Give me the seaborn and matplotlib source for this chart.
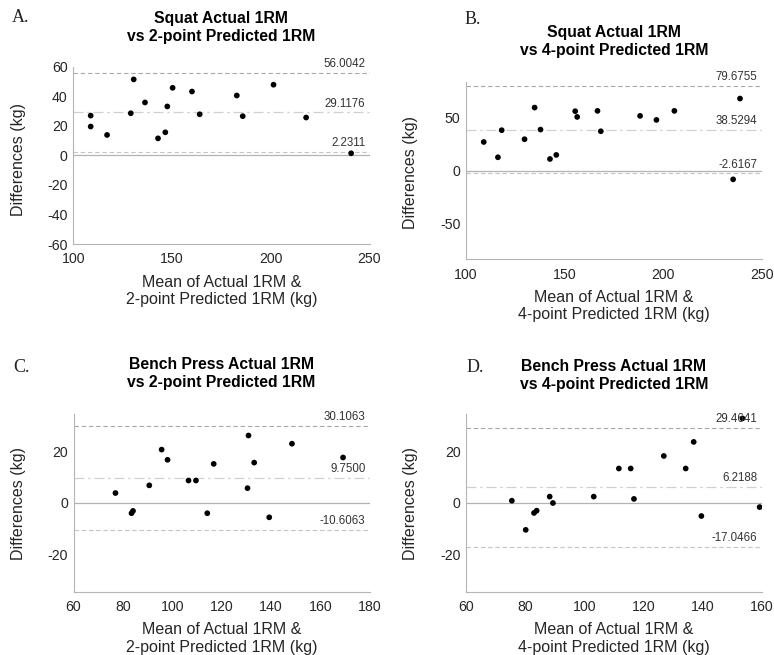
import numpy as np
import pandas as pd
import matplotlib
matplotlib.use("Agg")
import matplotlib.pyplot as plt
import seaborn as sns

# ---------------- data ----------------
a_mean = [108.8, 108.8, 117.1, 129.1, 130.6, 136.3, 142.9, 146.6, 147.6, 150.3,
          160.1, 164.0, 182.8, 185.8, 201.4, 217.9, 240.7]
a_diff = [26.9, 19.5, 13.8, 28.5, 51.4, 35.8, 11.5, 15.6, 33.1, 45.7,
          43.2, 27.8, 40.5, 26.5, 47.8, 25.6, 1.4]
a_lines = [56.0042, 29.1176, 2.2311]

b_mean = [109.0, 116.2, 118.1, 129.7, 134.8, 137.8, 142.6, 145.8, 155.4, 156.4,
          166.7, 168.4, 188.3, 196.6, 205.7, 235.5, 239.0]
b_diff = [27.0, 12.6, 38.1, 29.6, 59.4, 38.7, 11.0, 14.8, 56.0, 50.6,
          56.3, 37.1, 51.6, 47.8, 56.3, -8.2, 67.9]
b_lines = [79.6755, 38.5294, -2.6167]

c_mean = [77.0, 83.5, 84.1, 90.7, 95.7, 98.1, 106.6, 109.6, 114.2, 116.8,
          130.5, 130.9, 133.2, 139.3, 148.5, 169.2]
c_diff = [3.9, -4.0, -3.1, 6.9, 20.9, 16.9, 8.8, 8.8, -4.0, 15.3,
          5.8, 26.4, 15.8, -5.6, 23.2, 17.8]
c_lines = [30.1063, 9.7500, -10.6063]

d_mean = [75.5, 80.2, 83.0, 83.9, 88.3, 89.4, 103.2, 111.7, 115.7, 116.8,
          126.9, 134.3, 137.0, 139.6, 153.5, 159.3]
d_diff = [0.9, -10.5, -3.9, -3.0, 2.5, 0.0, 2.5, 13.5, 13.5, 1.6,
          18.4, 13.5, 23.9, -5.1, 33.1, -1.6]
d_lines = [29.4641, 6.2188, -17.0466]

line_labels = [["56.0042", "29.1176", "2.2311"],
               ["79.6755", "38.5294", "-2.6167"],
               ["30.1063", "9.7500", "-10.6063"],
               ["29.4641", "6.2188", "-17.0466"]]

titles = ["Squat Actual 1RM\nvs 2-point Predicted 1RM",
          "Squat Actual 1RM\nvs 4-point Predicted 1RM",
          "Bench Press Actual 1RM\nvs 2-point Predicted 1RM",
          "Bench Press Actual 1RM\nvs 4-point Predicted 1RM"]
xlabels = ["Mean of Actual 1RM &\n2-point Predicted 1RM (kg)",
           "Mean of Actual 1RM &\n4-point Predicted 1RM (kg)",
           "Mean of Actual 1RM &\n2-point Predicted 1RM (kg)",
           "Mean of Actual 1RM &\n4-point Predicted 1RM (kg)"]
panel_tags = ["A.", "B.", "C.", "D."]
xticks = [[100, 150, 200, 250], [100, 150, 200, 250],
          [60, 80, 100, 120, 140, 160, 180], [60, 80, 100, 120, 140, 160]]
yticks = [[-60, -40, -20, 0, 20, 40, 60], [-50, 0, 50], [-20, 0, 20], [-20, 0, 20]]
xlims = [(100, 250), (100, 250), (60, 180), (60, 160)]
ylims = [(-60, 60), (-83.5, 83.5), (-34.7, 34.7), (-34.7, 34.7)]

# ---------------- style ----------------
sns.set_theme(style="white")
plt.rcParams['font.family'] = ['Liberation Sans', 'DejaVu Sans']
plt.rcParams['axes.unicode_minus'] = False

W, H = 774, 655
fig = plt.figure(figsize=(W / 100, H / 100), dpi=100)

# axes boxes in pixels: left, top, right, bottom
boxes = [(73.3, 66.7, 369.5, 244.0),
         (466.0, 82.0, 761.7, 259.3),
         (73.5, 414.3, 369.7, 591.7),
         (466.0, 414.3, 761.7, 591.7)]
tag_pos = [(12, 22), (465, 24), (13, 372), (467, 372)]
title_top = [11, 25, 357, 359]
ylabel_right = [26, 418, 26, 418]
ylabel_center = [160, 173, 504, 504]

data = [(a_mean, a_diff, a_lines), (b_mean, b_diff, b_lines),
        (c_mean, c_diff, c_lines), (d_mean, d_diff, d_lines)]

txt = '#262626'
for i, (mx, dy, lines) in enumerate(data):
    l, t, r, b = boxes[i]
    ax = fig.add_axes([l / W, 1 - b / H, (r - l) / W, (b - t) / H])
    df = pd.DataFrame({"mean": mx, "diff": dy})
    ax.axhline(0, color='#b3b3b3', lw=0.9, zorder=1)
    ax.axhline(lines[0], color='#a8a8a8', lw=0.8, ls=(0, (4, 2.5)), zorder=1)
    ax.axhline(lines[1], color='#d0d0d0', lw=0.9, ls=(0, (8, 3, 2, 3)), zorder=1)
    ax.axhline(lines[2], color='#c4c4c4', lw=0.8, ls=(0, (4, 2.5)), zorder=1)
    sns.scatterplot(data=df, x="mean", y="diff", ax=ax, color='black', s=17,
                    edgecolor='none', zorder=3)
    for v, lab in zip(lines, line_labels[i]):
        ax.annotate(lab, xy=(xlims[i][1], v), xytext=(-3, 2),
                    textcoords='offset points', ha='right', va='bottom',
                    fontsize=8.3, color='#333333')
    ax.set_xlim(*xlims[i])
    ax.set_ylim(*ylims[i])
    ax.set_xticks(xticks[i])
    ax.set_yticks(yticks[i])
    ax.tick_params(axis='both', labelsize=10.2, labelcolor=txt, color='#b8b8b8',
                   direction='in', length=3, width=0.6)
    ax.tick_params(axis='x', pad=6)
    ax.tick_params(axis='y', pad=4)
    for s in ['top', 'right']:
        ax.spines[s].set_visible(False)
    for s in ['left', 'bottom']:
        ax.spines[s].set_color('#b5b5b5')
        ax.spines[s].set_linewidth(0.8)
    ax.set_xlabel(xlabels[i], fontsize=11.5, color=txt, labelpad=6, linespacing=1.2)
    ax.set_ylabel("Differences (kg)", fontsize=11.5, color=txt)
    ax.yaxis.set_label_coords((ylabel_right[i] - l) / (r - l),
                              (b - ylabel_center[i]) / (b - t))
    cx = (l + r) / 2
    fig.text(cx / W, 1 - title_top[i] / H, titles[i], ha='center', va='top',
             fontsize=11.3, fontweight='bold', color='black', linespacing=1.22)
    fig.text(tag_pos[i][0] / W, 1 - tag_pos[i][1] / H, panel_tags[i],
             family=['Liberation Serif', 'DejaVu Serif'], fontsize=13,
             color='#222222', ha='left', va='baseline')

fig.savefig("out.png", dpi=100)
